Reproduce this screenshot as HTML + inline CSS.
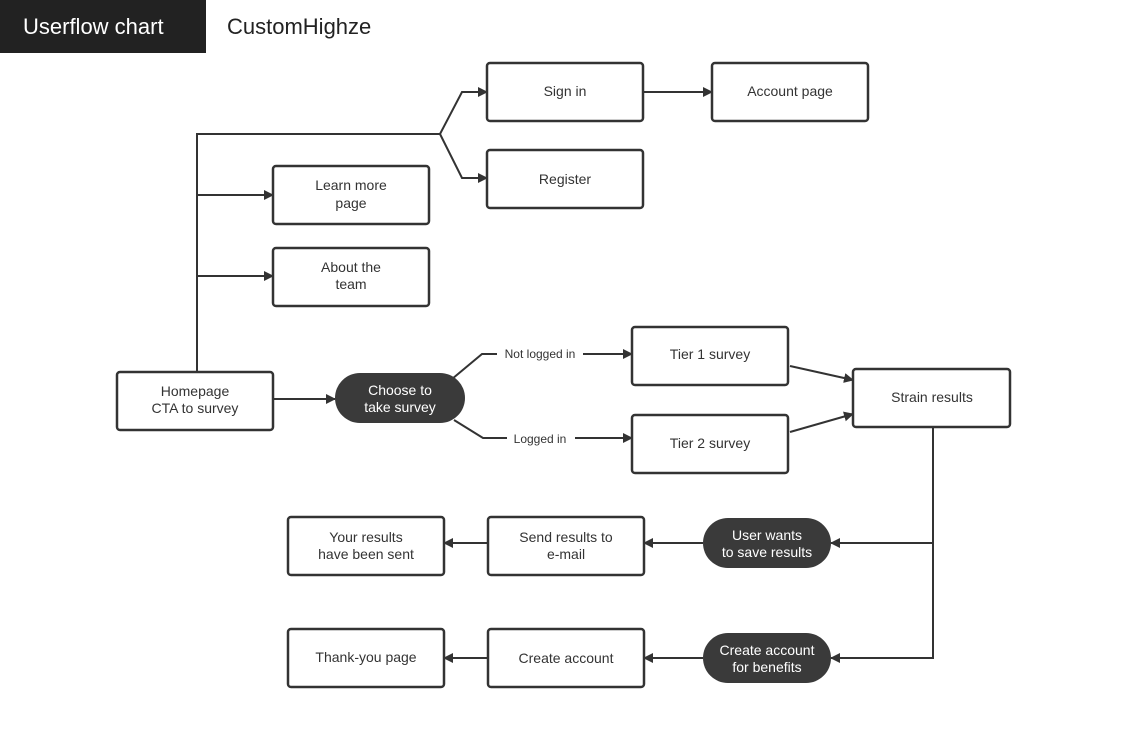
<!DOCTYPE html>
<html><head><meta charset="utf-8"><style>
html,body{margin:0;padding:0;background:#fff;}
svg{display:block;font-family:"Liberation Sans",sans-serif;}
.b{fill:#fff;stroke:#333;stroke-width:2.5;}
.p{fill:#3a3a3a;}
.l{stroke:#333;stroke-width:2;fill:none;}
.t{font-size:14px;fill:#333;text-anchor:middle;}
.w{font-size:14px;fill:#fff;text-anchor:middle;}
.s{font-size:12px;fill:#333;text-anchor:middle;}
</style></head><body>
<svg width="1128" height="751" viewBox="0 0 1128 751">
<defs><marker id="a" markerWidth="10" markerHeight="10" refX="9" refY="5" orient="auto" markerUnits="userSpaceOnUse"><path d="M0,0 L10,5 L0,10 Z" fill="#333"/></marker></defs>
<rect x="0" y="0" width="206" height="53" fill="#222"/>
<text x="23" y="34" font-size="22" fill="#fff">Userflow chart</text>
<text x="227" y="34" font-size="22" fill="#222">CustomHighze</text>

<!-- lines -->
<path class="l" d="M197,372 V134 H440"/>
<path class="l" d="M440,134 L462,92 H487" marker-end="url(#a)"/>
<path class="l" d="M440,134 L462,178 H487" marker-end="url(#a)"/>
<path class="l" d="M643,92 H712" marker-end="url(#a)"/>
<path class="l" d="M197,195 H273" marker-end="url(#a)"/>
<path class="l" d="M197,276 H273" marker-end="url(#a)"/>
<path class="l" d="M273,399 H335" marker-end="url(#a)"/>
<path class="l" d="M452,379 L482,354 H497"/>
<path class="l" d="M583,354 H632" marker-end="url(#a)"/>
<path class="l" d="M454,420 L483,438 H507"/>
<path class="l" d="M575,438 H632" marker-end="url(#a)"/>
<path class="l" d="M790,366 L853,380" marker-end="url(#a)"/>
<path class="l" d="M790,432 L853,414" marker-end="url(#a)"/>
<path class="l" d="M933,427 V658 H831" marker-end="url(#a)"/>
<path class="l" d="M933,543 H831" marker-end="url(#a)"/>
<path class="l" d="M703,543 H644" marker-end="url(#a)"/>
<path class="l" d="M488,543 H444" marker-end="url(#a)"/>
<path class="l" d="M703,658 H644" marker-end="url(#a)"/>
<path class="l" d="M488,658 H444" marker-end="url(#a)"/>

<text class="s" x="540" y="358">Not logged in</text>
<text class="s" x="540" y="443">Logged in</text>

<!-- boxes -->
<rect class="b" x="487" y="63" width="156" height="58" rx="3"/><text class="t" x="565" y="96">Sign in</text>
<rect class="b" x="712" y="63" width="156" height="58" rx="3"/><text class="t" x="790" y="96">Account page</text>
<rect class="b" x="487" y="150" width="156" height="58" rx="3"/><text class="t" x="565" y="184">Register</text>
<rect class="b" x="273" y="166" width="156" height="58" rx="3"/><text class="t" x="351" y="190">Learn more</text><text class="t" x="351" y="208">page</text>
<rect class="b" x="273" y="248" width="156" height="58" rx="3"/><text class="t" x="351" y="272">About the</text><text class="t" x="351" y="289">team</text>
<rect class="b" x="117" y="372" width="156" height="58" rx="3"/><text class="t" x="195" y="396">Homepage</text><text class="t" x="195" y="413">CTA to survey</text>
<rect class="p" x="335" y="373" width="130" height="50" rx="25"/><text class="w" x="400" y="395">Choose to</text><text class="w" x="400" y="412">take survey</text>
<rect class="b" x="632" y="327" width="156" height="58" rx="3"/><text class="t" x="710" y="359">Tier 1 survey</text>
<rect class="b" x="632" y="415" width="156" height="58" rx="3"/><text class="t" x="710" y="448">Tier 2 survey</text>
<rect class="b" x="853" y="369" width="157" height="58" rx="3"/><text class="t" x="932" y="402">Strain results</text>
<rect class="b" x="288" y="517" width="156" height="58" rx="3"/><text class="t" x="366" y="542">Your results</text><text class="t" x="366" y="559">have been sent</text>
<rect class="b" x="488" y="517" width="156" height="58" rx="3"/><text class="t" x="566" y="542">Send results to</text><text class="t" x="566" y="559">e-mail</text>
<rect class="p" x="703" y="518" width="128" height="50" rx="25"/><text class="w" x="767" y="540">User wants</text><text class="w" x="767" y="557">to save results</text>
<rect class="b" x="288" y="629" width="156" height="58" rx="3"/><text class="t" x="366" y="662">Thank-you page</text>
<rect class="b" x="488" y="629" width="156" height="58" rx="3"/><text class="t" x="566" y="663">Create account</text>
<rect class="p" x="703" y="633" width="128" height="50" rx="25"/><text class="w" x="767" y="655">Create account</text><text class="w" x="767" y="672">for benefits</text>
</svg>
</body></html>
